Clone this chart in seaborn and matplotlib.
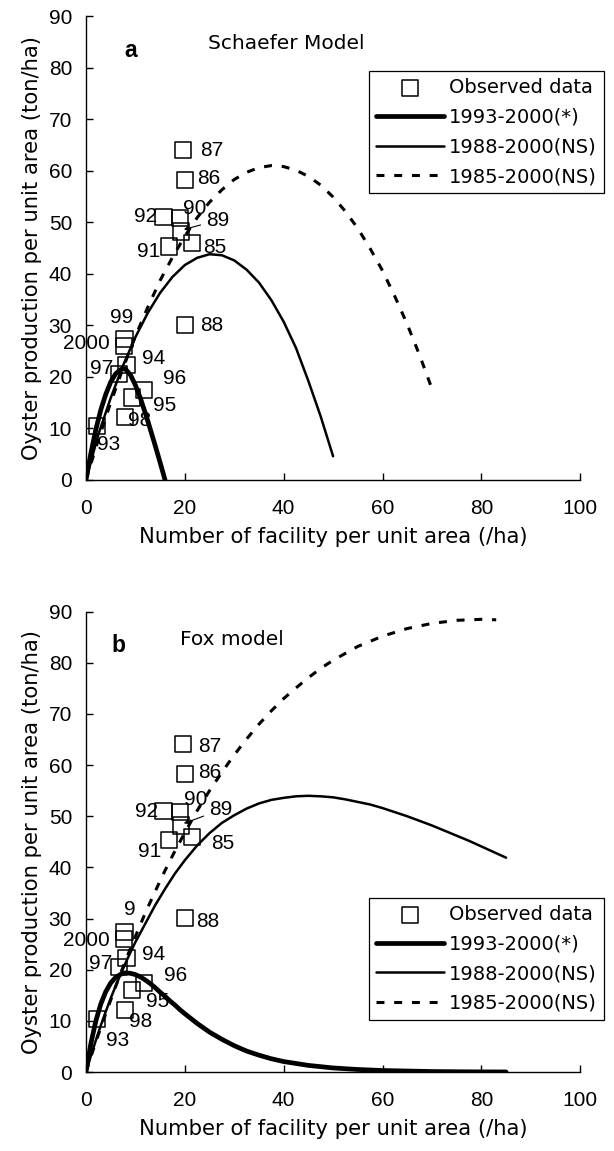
import numpy as np
import pandas as pd
import seaborn as sns
import matplotlib.pyplot as plt

sns.set_style('ticks')
plt.rcParams['font.family'] = ['Liberation Sans', 'DejaVu Sans']
plt.rcParams.update({'text.color': 'black', 'axes.labelcolor': 'black',
                     'xtick.color': 'black', 'ytick.color': 'black',
                     'axes.edgecolor': 'black'})

# observed data (year label, facility /ha, production ton/ha)
years = ['85', '86', '87', '88', '89', '90', '91', '92',
         '93', '94', '95', '96', '97', '98', '99', '2000']
facility = [21.4, 20.1, 19.7, 20.1, 19.2, 19.0, 16.8, 15.7,
            2.3, 8.2, 9.3, 11.7, 6.6, 7.9, 7.8, 7.7]
production = [46.0, 58.2, 64.1, 30.1, 48.2, 50.8, 45.3, 51.1,
              10.4, 22.3, 16.0, 17.4, 20.5, 12.2, 27.3, 26.0]

# Schaefer model curves
sch_x_93 = [0, 1, 2, 3, 4, 5, 6, 7, 7.5, 8, 9, 10, 11, 12, 13, 14, 15, 16]
sch_y_93 = [0, 5.2, 9.8, 13.6, 16.6, 19.0, 20.6, 21.4, 21.6, 21.5, 20.4,
            18.4, 15.9, 13.0, 9.9, 6.7, 3.4, 0]
sch_x_88 = [0, 2.5, 5, 7.5, 10, 12.5, 15, 17.5, 20, 22.5, 25, 27.5, 30,
            32.5, 35, 37.5, 40, 42.5, 45, 47.5, 50]
sch_y_88 = [0, 8.8, 15.9, 22.2, 27.7, 32.4, 36.3, 39.4, 41.7, 43.1, 43.8,
            43.6, 42.6, 40.8, 38.3, 34.9, 30.7, 25.6, 19.2, 12.3, 4.6]
sch_x_85 = [0, 2.5, 5, 7.5, 10, 12.5, 15, 17.5, 20, 22.5, 25, 27.5, 30,
            32.5, 35, 37.5, 40, 42.5, 45, 47.5, 50, 52.5, 55, 57.5, 60,
            62.5, 65, 67.5, 70]
sch_y_85 = [0, 7.8, 15.0, 21.7, 27.9, 33.5, 38.7, 43.2, 47.3, 50.9, 53.9,
            56.3, 58.3, 59.7, 60.6, 61.0, 60.8, 60.1, 58.9, 57.2, 54.9,
            52.1, 48.8, 44.9, 40.6, 35.6, 30.2, 24.2, 17.7]

# Fox model curves
fox_x_93 = [0, 1, 2, 3, 4, 5, 6, 7, 8, 9, 10, 11, 12, 13, 14, 15, 16, 17,
            18, 19, 20, 22.5, 25, 27.5, 30, 32.5, 35, 37.5, 40, 45, 50, 55,
            60, 65, 70, 75, 80, 85]
fox_y_93 = [0, 5.6, 10.0, 13.3, 15.7, 17.4, 18.5, 19.1, 19.4, 19.3, 19.05,
            18.6, 18.0, 17.3, 16.5, 15.6, 14.8, 13.9, 13.1, 12.2, 11.4,
            9.5, 7.8, 6.4, 5.15, 4.1, 3.3, 2.6, 2.05, 1.3, 0.8, 0.5, 0.3,
            0.2, 0.1, 0.06, 0.03, 0.02]
fox_x_88 = [0, 1, 2, 3, 4, 5, 6, 7, 8, 9, 10, 12, 14, 16, 18, 20, 22.5,
            25, 27.5, 30, 32.5, 35, 37.5, 40, 42.5, 45, 47.5, 50, 52.5, 55,
            57.5, 60, 62.5, 65, 67.5, 70, 72.5, 75, 77.5, 80, 82.5, 85]
fox_y_88 = [0, 3.2, 6.2, 9.1, 11.8, 14.4, 16.8, 19.1, 21.3, 23.4, 25.4,
            29.0, 32.6, 35.8, 38.8, 41.4, 44.3, 46.7, 48.7, 50.2, 51.5,
            52.5, 53.2, 53.6, 53.9, 54.0, 53.9, 53.7, 53.3, 52.8, 52.3,
            51.6, 50.8, 50.0, 49.1, 48.2, 47.2, 46.2, 45.2, 44.1, 43.0, 41.9]
fox_x_85 = [0, 1, 2, 4, 6, 8, 10, 12, 14, 16, 18, 20, 22.5, 25, 27.5, 30,
            32.5, 35, 37.5, 40, 42.5, 45, 47.5, 50, 55, 60, 65, 70, 75, 80,
            83]
fox_y_85 = [0, 3.0, 5.9, 11.4, 16.7, 21.8, 26.5, 31.1, 35.3, 39.4, 43.2,
            46.8, 51.1, 55.0, 58.6, 62.0, 65.1, 68.0, 70.6, 73.0, 75.1,
            77.1, 78.9, 80.5, 83.2, 85.2, 86.7, 87.7, 88.3, 88.5, 88.4]

# label placement: (x, y, ha) in data units
lab_a = {'87': (23.1, 64.0, 'left'), '86': (22.4, 58.5, 'left'),
         '92': (14.4, 51.2, 'right'), '90': (19.7, 52.7, 'left'),
         '85': (23.7, 45.2, 'left'), '91': (15.0, 44.4, 'right'),
         '88': (23.1, 30.0, 'left'), '99': (7.3, 31.6, 'center'),
         '2000': (4.9, 26.5, 'right'), '94': (11.3, 23.6, 'left'),
         '97': (5.5, 21.7, 'right'), '96': (15.6, 19.7, 'left'),
         '95': (13.6, 14.5, 'left'), '98': (8.5, 11.5, 'left'),
         '93': (2.2, 6.8, 'left')}
lab_b = {'87': (22.7, 63.7, 'left'), '86': (22.7, 58.5, 'left'),
         '92': (14.5, 50.9, 'right'), '90': (19.9, 53.2, 'left'),
         '85': (25.4, 44.7, 'left'), '91': (15.2, 43.1, 'right'),
         '88': (22.3, 29.4, 'left'), '99': (8.9, 31.7, 'center'),
         '2000': (4.9, 25.7, 'right'), '94': (11.4, 22.9, 'left'),
         '97': (5.3, 21.2, 'right'), '96': (15.8, 18.9, 'left'),
         '95': (12.1, 13.7, 'left'), '98': (8.7, 9.8, 'left'),
         '93': (4.1, 6.2, 'left')}

FS = 15
WIDE = ['DejaVu Sans']
dash = (0, (2.6, 3.2))

fig = plt.figure(figsize=(6.14, 11.51), dpi=100)
ax_a = fig.add_axes([0.140, 0.583, 0.805, 0.403])
ax_b = fig.add_axes([0.140, 0.0686, 0.805, 0.400])


def draw(ax, curves, labels, lab89, letter, letter_x, title, title_x, leg_y):
    sns.scatterplot(x=facility, y=production, ax=ax, marker='s', s=135,
                    facecolor='none', edgecolor='black', linewidth=1.1,
                    label='Observed data', zorder=3)
    (x1, y1), (x2, y2), (x3, y3) = curves
    sns.lineplot(x=x1, y=y1, ax=ax, color='black', lw=3.4,
                 label='1993-2000(*)', estimator=None, sort=False)
    sns.lineplot(x=x2, y=y2, ax=ax, color='black', lw=1.8,
                 label='1988-2000(NS)', estimator=None, sort=False)
    sns.lineplot(x=x3, y=y3, ax=ax, color='black', lw=2.2, linestyle=dash,
                 label='1985-2000(NS)', estimator=None, sort=False)

    for yr in years:
        if yr == '89':
            continue
        tx, ty, ha = labels[yr]
        txt = yr
        if letter == 'b' and yr == '99':
            txt = '9'
        ax.text(tx, ty, txt, ha=ha, va='center', fontsize=FS)
    i89 = years.index('89')
    ax.annotate('89', xy=(facility[i89] + 0.6, production[i89] + 0.4),
                xytext=lab89, ha='left', va='center', fontsize=FS,
                arrowprops=dict(arrowstyle='-|>', lw=0.8, color='black',
                                mutation_scale=7, shrinkA=2, shrinkB=0))

    ax.text(letter_x, 83.3, letter, fontsize=16.5, fontweight='bold',
            ha='center', va='center')
    ax.text(title_x, 84.6, title, fontsize=14.5, family=WIDE,
            ha='left', va='center')

    ax.set_xlim(0, 100)
    ax.set_ylim(0, 90)
    ax.set_xticks(range(0, 101, 20))
    ax.set_yticks(range(0, 91, 10))
    ax.tick_params(direction='in', length=5, width=1, labelsize=FS, pad=10)
    ax.tick_params(axis='x', pad=14)
    ax.set_xlabel('Number of facility per unit area (/ha)', fontsize=15.2,
                  family=WIDE, labelpad=6)
    ax.set_ylabel('Oyster production per unit area (ton/ha)', fontsize=15.2,
                  family=WIDE, labelpad=5)
    for sp in ['top', 'right']:
        ax.spines[sp].set_visible(False)
    for sp in ['left', 'bottom']:
        ax.spines[sp].set_linewidth(1.0)
        ax.spines[sp].set_color('black')

    h, l = ax.get_legend_handles_labels()
    leg = ax.legend(h, l, loc='upper left', bbox_to_anchor=(0.573, leg_y),
                    borderaxespad=0, frameon=True,
                    prop={'family': WIDE, 'size': 14},
                    fancybox=False, framealpha=1, edgecolor='black',
                    handlelength=3.5, handletextpad=0.25, borderpad=0.35,
                    labelspacing=0.55)
    leg.get_frame().set_linewidth(0.9)


draw(ax_a, [(sch_x_93, sch_y_93), (sch_x_88, sch_y_88), (sch_x_85, sch_y_85)],
     lab_a, (24.4, 50.4), 'a', 9.1, 'Schaefer Model', 24.7, 0.881)
draw(ax_b, [(fox_x_93, fox_y_93), (fox_x_88, fox_y_88), (fox_x_85, fox_y_85)],
     lab_b, (25.0, 51.3), 'b', 6.5, 'Fox model', 19.0, 0.378)

fig.savefig('out.png', dpi=100)
